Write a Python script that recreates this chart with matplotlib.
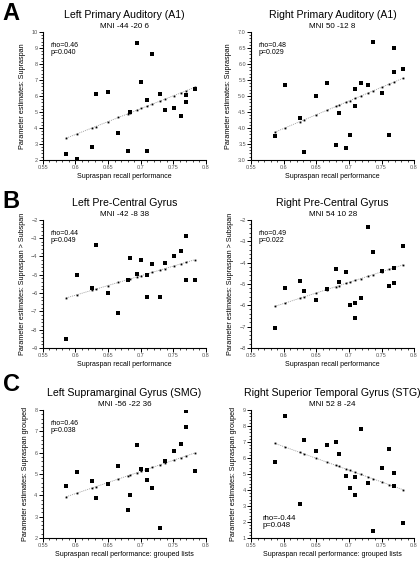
import numpy as np
import matplotlib
matplotlib.use('Agg')
import matplotlib.pyplot as plt
from matplotlib.ticker import MultipleLocator

plt.rcParams['font.family'] = ['Liberation Sans', 'DejaVu Sans']

# recall performance per subject (same subjects in every panel)
recall = [0.586, 0.602, 0.625, 0.631, 0.650, 0.666, 0.680, 0.684, 0.695, 0.701,
          0.710, 0.710, 0.718, 0.730, 0.737, 0.751, 0.762, 0.769, 0.769, 0.783]

# parameter estimates per region
left_a1 = [2.35, 2.08, 2.79, 6.10, 6.25, 3.66, 2.58, 5.02, 9.30, 6.89,
           5.77, 2.58, 8.63, 6.12, 5.13, 5.23, 4.74, 6.06, 5.61, 6.43]
right_a1 = [3.76, 5.33, 4.31, 3.25, 4.99, 5.41, 3.48, 4.47, 3.38, 3.79,
            5.23, 4.70, 5.39, 5.35, 6.69, 5.09, 3.79, 6.49, 5.74, 5.84]
left_pcg = [-8.50, -5.01, -5.70, -3.35, -6.01, -7.11, -5.28, -4.11, -4.94, -4.17,
            -6.24, -5.00, -4.44, -6.21, -4.38, -4.00, -3.71, -2.90, -5.30, -5.27]
right_pcg = [-7.05, -5.21, -4.87, -5.32, -5.77, -5.23, -4.29, -4.93, -4.45, -6.01,
             -5.88, -6.62, -5.64, -2.33, -3.49, -4.38, -5.12, -4.25, -4.97, -3.21]
left_smg = [4.43, 5.11, 4.69, 3.88, 4.53, 5.36, 3.33, 4.02, 6.36, 5.22,
            5.19, 4.73, 4.34, 2.46, 5.60, 6.08, 6.42, 7.97, 7.19, 5.12]
right_stg = [5.74, 8.65, 3.12, 7.11, 6.45, 6.82, 6.99, 6.28, 4.85, 4.10,
             3.68, 4.80, 7.82, 4.43, 1.42, 5.39, 6.57, 5.07, 4.24, 1.96]

titles = ['Left Primary Auditory (A1)', 'Right Primary Auditory (A1)',
          'Left Pre-Central Gyrus', 'Right Pre-Central Gyrus',
          'Left Supramarginal Gyrus (SMG)', 'Right Superior Temporal Gyrus (STG)']
mni = ['MNI -44 -20 6', 'MNI 50 -12 8', 'MNI -42 -8 38', 'MNI 54 10 28',
       'MNI -56 -22 36', 'MNI 52 8 -24']
stats = ['rho=0.46\np=0.040', 'rho=0.48\np=0.029', 'rho=0.44\np=0.049',
         'rho=0.49\np=0.022', 'rho=0.46\np=0.038', 'rho=-0.44\np=0.048']
ylabels = ['Parameter estimates: Supraspan'] * 2 + \
          ['Parameter estimates: Supraspan > Subspan'] * 2 + \
          ['Parameter estimates: Supraspan grouped'] * 2
xlabels = ['Supraspan recall performance'] * 4 + \
          ['Supraspan recall performance: grouped lists'] * 2
ylims = [(2, 10), (3, 7), (-9, -2), (-8, -2), (2, 8), (1, 9)]
ymajor = [1, 0.5, 1, 1, 1, 1]
yminor = [0.2, 0.1, 0.2, 0.2, 0.2, 0.2]
series = [left_a1, right_a1, left_pcg, right_pcg, left_smg, right_stg]

fig = plt.figure(figsize=(4.2, 5.61), dpi=100)

lefts = [0.102, 0.598]
bottoms = [0.715, 0.380, 0.041]
w, h = 0.388, 0.228

x = np.array(recall)
for i, y in enumerate(series):
    y = np.array(y)
    ax = fig.add_axes([lefts[i % 2], bottoms[i // 2], w, h])
    # regression line, fitted value drawn at each subject's x
    slope, icpt = np.polyfit(x, y, 1)
    xs = np.unique(x)
    ax.plot(xs, slope * xs + icpt, color='#999999', lw=0.6, ls=(0, (1.2, 1.2)),
            marker='s', ms=1.3, mfc='black', mec='black', mew=0, zorder=2)
    ax.plot(x, y, 's', color='black', ms=2.2, mew=0, zorder=3)

    ax.set_xlim(0.55, 0.8)
    ax.set_ylim(*ylims[i])
    ax.xaxis.set_major_locator(MultipleLocator(0.05))
    ax.xaxis.set_minor_locator(MultipleLocator(0.01))
    ax.yaxis.set_major_locator(MultipleLocator(ymajor[i]))
    ax.yaxis.set_minor_locator(MultipleLocator(yminor[i]))
    ax.set_xticks([0.55, 0.6, 0.65, 0.7, 0.75, 0.8])
    ax.set_xticklabels(['0.55', '0.6', '0.65', '0.7', '0.75', '0.8'])
    for s in ['top', 'right']:
        ax.spines[s].set_visible(False)
    for s in ['left', 'bottom']:
        ax.spines[s].set_linewidth(0.8)
    ax.tick_params(which='major', direction='out', length=2.6, width=0.7,
                   labelsize=4, labelcolor='#555555', pad=1.2)
    ax.tick_params(which='minor', direction='out', length=1.4, width=0.5)

    ax.set_xlabel(xlabels[i], fontsize=5.0, labelpad=2)
    ax.set_ylabel(ylabels[i], fontsize=5.2, labelpad=4)

    ax.text(0.5, 1.13, titles[i], transform=ax.transAxes, ha='center',
            va='center', fontsize=7.6)
    ax.text(0.5, 1.045, mni[i], transform=ax.transAxes, ha='center',
            va='center', fontsize=5.8)
    if i == 5:
        ax.text(0.07, 0.07, stats[i], transform=ax.transAxes, ha='left',
                va='bottom', fontsize=5.6, linespacing=1.0)
    else:
        ax.text(0.045, 0.92, stats[i], transform=ax.transAxes, ha='left',
                va='top', fontsize=5.0, linespacing=1.0)

for letter, ypos in zip(['A', 'B', 'C'], [0.997, 0.662, 0.336]):
    fig.text(0.006, ypos, letter, fontsize=17, fontweight='bold', va='top')

fig.savefig('out.png', dpi=100)
